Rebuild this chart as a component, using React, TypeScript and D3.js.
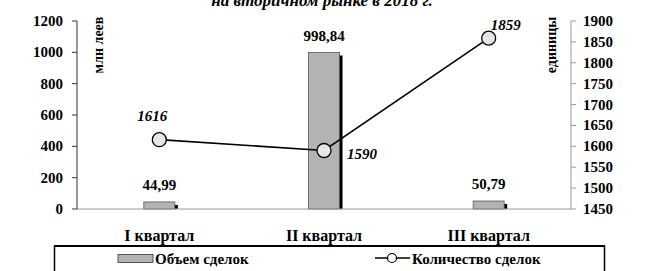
import React from "react";
import * as d3 from "d3";

const categories = ["I квартал", "II квартал", "III квартал"];
const volume = [44.99, 998.84, 50.79];
const volumeLabels = ["44,99", "998,84", "50,79"];
const deals = [1616, 1590, 1859];
const leftTicks = [0, 200, 400, 600, 800, 1000, 1200];
const rightTicks = [1450, 1500, 1550, 1600, 1650, 1700, 1750, 1800, 1850, 1900];

const W = 647, H = 271;
const FONT = "Liberation Serif, DejaVu Serif, serif";

export default function App() {
  const x = d3.scaleBand<string>().domain(categories).range([77, 571]);
  const yL = d3.scaleLinear().domain([0, 1200]).range([209, 21]);
  const yR = d3.scaleLinear().domain([1450, 1900]).range([209, 21]);
  const bw = 31;
  const cx = (c: string) => (x(c) as number) + x.bandwidth() / 2;
  const line = d3.line<number>().x((_, i) => cx(categories[i])).y((d) => yR(d));
  const labelOffsets = [
    { dx: -7, dy: -19, anchor: "middle" },
    { dx: 23, dy: 8, anchor: "start" },
    { dx: 2, dy: -8, anchor: "start" },
  ];
  return (
    <svg width={W} height={H} style={{ position: "absolute", left: 0, top: 0, background: "#fff", fontFamily: FONT }}>
      <rect x={0} y={0} width={W} height={H} fill="#fff" />
      <text x={322} y={6} textAnchor="middle" style={{ fontFamily: FONT }} fontSize={17} fontStyle="italic" fontWeight="bold">
        на вторичном рынке в 2018 г.
      </text>
      {/* bars */}
      {categories.map((c, i) => (
        <g key={c}>
          <rect x={cx(c) - bw / 2 + 3} y={yL(volume[i]) + 3} width={bw} height={209 - yL(volume[i]) - 3} fill="#000" />
          <rect x={cx(c) - bw / 2} y={yL(volume[i])} width={bw} height={209 - yL(volume[i])} fill="#b3b3b3" stroke="#555" strokeWidth={0.8} />
          <text x={cx(c)} y={yL(volume[i]) - 12} textAnchor="middle" style={{ fontFamily: FONT }} fontSize={15} fontWeight="bold">
            {volumeLabels[i]}
          </text>
        </g>
      ))}
      {/* axes */}
      <line x1={77} x2={571} y1={209} y2={209} stroke="#999" strokeWidth={1.2} />
      <line x1={77} x2={77} y1={21} y2={209} stroke="#333" strokeWidth={1} />
      {leftTicks.map((t) => (
        <g key={t}>
          <line x1={72} x2={77} y1={yL(t)} y2={yL(t)} stroke="#333" />
          <text x={63} y={yL(t) + 5} textAnchor="end" style={{ fontFamily: FONT }} fontSize={15} fontWeight="bold">{t}</text>
        </g>
      ))}
      <line x1={571} x2={571} y1={21} y2={209} stroke="#999" strokeWidth={1} />
      {rightTicks.map((t) => (
        <g key={t}>
          <line x1={571} x2={576} y1={yR(t)} y2={yR(t)} stroke="#999" />
          <text x={583} y={yR(t) + 5} textAnchor="start" style={{ fontFamily: FONT }} fontSize={15} fontWeight="bold">{t}</text>
        </g>
      ))}
      <text transform="translate(103,45) rotate(-90)" textAnchor="middle" style={{ fontFamily: FONT }} fontSize={14} fontWeight="bold">млн леев</text>
      <text transform="translate(556,45) rotate(-90)" textAnchor="middle" style={{ fontFamily: FONT }} fontSize={14} fontWeight="bold">единицы</text>
      {/* line */}
      <path d={line(deals) || ""} fill="none" stroke="#000" strokeWidth={1.6} />
      {deals.map((d, i) => (
        <g key={i}>
          <circle cx={cx(categories[i])} cy={yR(d)} r={7} fill="#e6e6e6" stroke="#000" strokeWidth={1.3} />
          <text x={cx(categories[i]) + labelOffsets[i].dx} y={yR(d) + labelOffsets[i].dy} textAnchor={labelOffsets[i].anchor as any}
            style={{ fontFamily: FONT }} fontSize={15} fontWeight="bold" fontStyle="italic">{d}</text>
        </g>
      ))}
      {/* category labels */}
      {categories.map((c) => (
        <text key={c} x={cx(c)} y={241} textAnchor="middle" style={{ fontFamily: FONT }} fontSize={16} fontWeight="bold">{c}</text>
      ))}
      {/* legend */}
      <rect x={54.5} y={246} width={550} height={40} fill="#fff" stroke="#000" strokeWidth={1.5} />
      <line x1={54} x2={605} y1={246} y2={246} stroke="#000" strokeWidth={2} />
      <rect x={118} y={254.5} width={35} height={8} fill="#b3b3b3" stroke="#333" strokeWidth={0.8} />
      <text x={155} y={264} style={{ fontFamily: FONT }} fontSize={15} fontWeight="bold">Объем сделок</text>
      <line x1={375} x2={410} y1={258} y2={258} stroke="#000" strokeWidth={1.5} />
      <circle cx={392} cy={258} r={4.5} fill="#fff" stroke="#000" strokeWidth={1.2} />
      <text x={412} y={264} style={{ fontFamily: FONT }} fontSize={15} fontWeight="bold">Количество сделок</text>
    </svg>
  );
}
